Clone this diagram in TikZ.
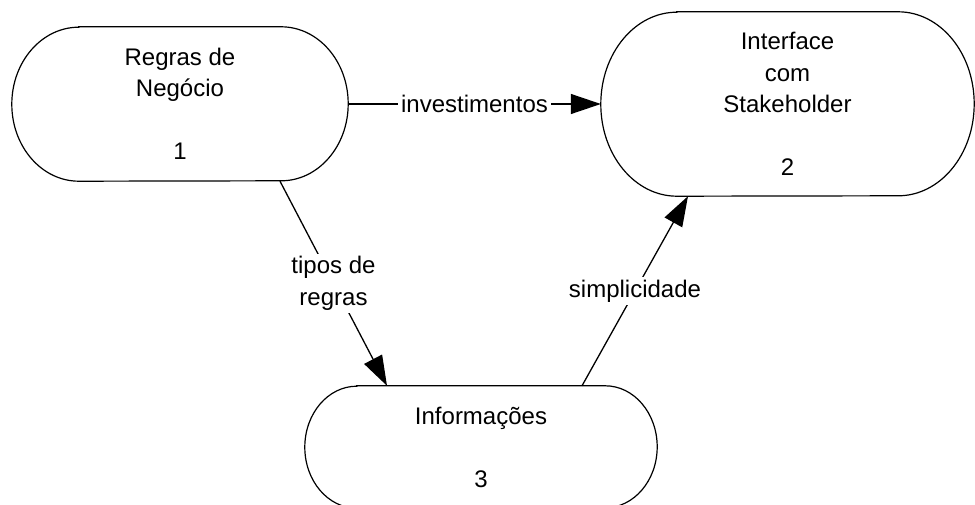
\documentclass[tikz,border=0pt]{standalone}
\usepackage{fontspec}
\setmainfont{Liberation Sans}
\usetikzlibrary{arrows.meta}

\tikzset{
  block/.style={inner sep=0pt, align=center, font=\fontsize{24}{31.5}\selectfont},
  link/.style={line width=1.3pt, -{Triangle[length=30pt,width=20pt]}},
  tag/.style={fill=white, inner sep=3pt, align=center, font=\fontsize{24}{31.5}\selectfont}
}

% rectangle with elliptic ends round a node: name, x radius, y radius
\newcommand{\capsule}[3]{%
  \draw[line width=1.2pt] ([xshift=#2]#1.north west) -- ([xshift=-#2]#1.north east)
    arc[start angle=90, end angle=-90, x radius=#2, y radius=#3]
    -- ([xshift=#2]#1.south west)
    arc[start angle=270, end angle=90, x radius=#2, y radius=#3] -- cycle;}

\begin{document}
\begin{tikzpicture}[x=1pt,y=1pt]

\clip (0,0) rectangle (975,-505);

% Blocks
\node[block, minimum width=336pt, minimum height=154pt] (regras) at (180,-104) {Regras de\\Negócio\\[31.5pt]1};
\node[block, minimum width=373pt, minimum height=184pt] (interface) at (787.5,-104) {Interface\\com\\Stakeholder\\[31.5pt]2};
\node[block, minimum width=352pt, minimum height=122pt] (info) at (481,-447) {Informações\\[31.5pt]3};

\capsule{regras}{67pt}{77pt}
\capsule{interface}{76pt}{92pt}
\capsule{info}{52pt}{61pt}

% Links
\draw[link] (regras.east) -- node[tag] {investimentos} (interface.west);
\draw[link] ([xshift=100pt]regras.south) -- node[tag] {tipos de\\regras} ([xshift=-94pt]info.north);
\draw[link] ([xshift=101pt]info.north) -- node[tag] {simplicidade} ([xshift=-99.5pt]interface.south);

\end{tikzpicture}
\end{document}
